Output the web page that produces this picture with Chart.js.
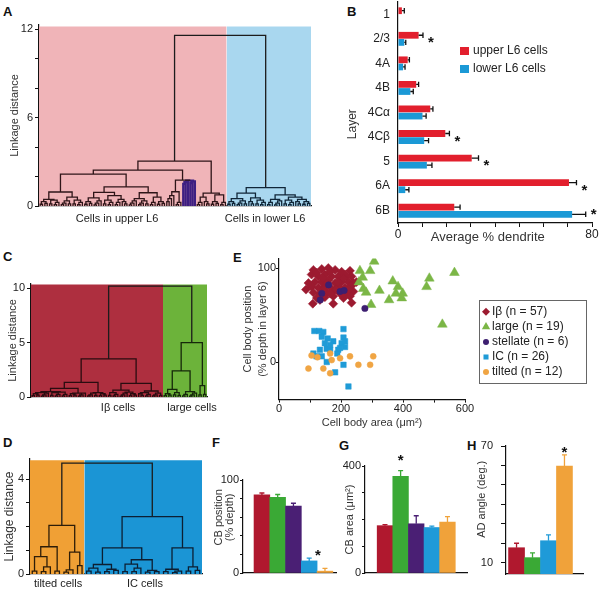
<!DOCTYPE html>
<html><head><meta charset="utf-8"><title>Layer 6 cell types</title>
<script src="https://cdn.jsdelivr.net/npm/chart.js@4.4.1/dist/chart.umd.min.js"></script>
<style>
html,body{margin:0;padding:0;background:#fff}
body{position:relative;width:600px;height:593px;overflow:hidden;font-family:'Liberation Sans',Arial,sans-serif}
canvas{position:absolute}
.pl{position:absolute;font:bold 13px/1 'Liberation Sans',Arial,sans-serif;color:#111}
</style></head><body>
<div class="pl" style="left:3px;top:5px">A</div>
<div class="pl" style="left:347px;top:5px">B</div>
<div class="pl" style="left:3px;top:250px">C</div>
<div class="pl" style="left:3px;top:436px">D</div>
<div class="pl" style="left:233px;top:251px">E</div>
<div class="pl" style="left:212px;top:436px">F</div>
<div class="pl" style="left:339px;top:439px">G</div>
<div class="pl" style="left:467px;top:439px">H</div>
<script>
// ================= DATA =================
// Dendrogram nodes: [linkage distance, left, right, group tag]; 0 = one cell
const m3a=[0.25,[0.1,0,0],0], m3b=[0.3,0,[0.15,0,0]], m4a=[0.3,[0.12,0,0],[0.18,0,0]],
      m4b=[0.35,[0.2,[0.08,0,0],0],0], m5a=[0.4,[0.15,0,0],[0.25,[0.1,0,0],0]],
      m5b=[0.35,[0.2,[0.1,0,0],0],[0.15,0,0]];

// Panel A
const stellateTree=[1.72,[1.62,[1.5,0,0],0],[1.68,[1.55,0,0],0],'p'];
const upperTree=[3.05,
  [2.44,
    [2.17,
      [0.95,[0.45,m4a,m5a],[0.6,m5b,m5a]],
      [1.3,[0.93,[0.55,m4a,m4b],[0.7,m5a,[0.45,m3a,m3b]]],[0.9,[0.5,m4b,m5b],[0.6,m3a,m4a]]]],
    [1.76,[0.97,[0.7,[0.5,[0.3,0,0],0],0],m3a],stellateTree]],
  [0.88,[0.6,m3a,m3b],[0.75,m4a,m3a]],'u'];
const lowerTree=[1.25,[0.88,[0.5,m4a,m5b],[0.55,m3b,m5a]],[0.75,[0.45,m3a,m4b],[0.6,m5a,[0.45,m3b,m4a]]],'l'];
const treeA=[11.6,upperTree,lowerTree,'k'];
const groupsA=['Cells in upper L6','Cells in lower L6'];
const ticksA=[0,2,4,6,8,10,12], tickLabelsA=[0,6,12];

// Panel C
const ibTree=[3.5,
  [1.35,[0.8,[0.5,[0.4,m4a,m4b],[0.45,m5a,m3a]],[0.35,m4a,m4b]],[0.4,m5b,m4a]],
  [1.26,[0.64,m5a,[0.45,m4b,m4a]],[0.55,[0.4,m3b,m3a],m5b]],'i'];
const largeTree=[5.0,[2.4,[0.7,m4a,[0.4,[0.2,0,0],[0.15,0,0]]],[0.5,m3a,m4b]],[1.04,[0.2,0,0],[0.25,0,0]],'g'];
const treeC=[10.2,ibTree,largeTree,'k'];
const groupsC=['I\u03b2 cells','large cells'];
const ticksC=[0,5,10], tickLabelsC=[0,5,10];

// Panel D
const tiltedTree=[2.05,[1.15,[0.73,[0.12,0,0],[0.3,[0.1,0,0],0]],[0.12,0,0]],[0.92,[0.17,[0.08,0,0],0],[0.35,0,0]],'t'];
const icTree=[2.42,
  [1.1,[0.4,[0.25,[0.12,0,0],[0.08,0,0]],[0.2,[0.1,0,0],[0.15,0,0]]],
       [0.6,[0.42,[0.1,0,0],[0.25,[0.1,0,0],0]],[0.15,[0.08,0,0],[0.1,0,0]]]],
  [1.1,[0.2,[0.1,0,0],[0.12,[0.06,0,0],0]],[0.3,[0.12,0,0],[0.15,0,0]]],'c'];
const treeD=[4.68,tiltedTree,icTree,'k'];
const groupsD=['tilted cells','IC cells'];
const ticksD=[0,1,2,3,4], tickLabelsD=[0,4];

// Panel B
const layers=['1','2/3','4A','4B','4C\u03b1','4C\u03b2','5','6A','6B'];
const upperL6=[1.6,8.5,4.0,7.5,13.3,19.5,30.4,70.5,23.2];
const upperL6Sem=[1.0,1.8,0.7,1.0,1.1,1.7,2.8,3.1,2.4];
const lowerL6=[0,2.6,2.1,5.1,10.1,10.8,11.9,3.0,71.8];
const lowerL6Sem=[0,0.6,0.8,1.2,1.5,1.8,2.1,1.5,5.6];
const layerSignificant=[false,true,false,false,false,true,true,true,true];
const dendriteTicks=[0,10,20,30,40,50,60,70,80], dendriteTickLabels=[0,80];

// Panel E: [cell body area (um2), cell body position (% depth)]
const ibCells=[[111,98],[138,99],[159,100],[181,98],[229,97],[105,93],[127,91],[148,93],[170,91],[191,91],
 [218,91],[234,91],[116,85],[138,85],[159,87],[181,84],[202,85],[224,85],[240,84],[87,77],
 [105,80],[127,79],[148,80],[170,78],[191,80],[213,79],[234,81],[111,74],[132,73],[154,74],
 [175,75],[197,73],[218,73],[240,75],[122,68],[148,69],[175,70],[208,68],[229,70],[109,62],
 [175,62],[234,63],[143,89],[165,96],[202,96],[213,93],[250,85],[95,84],[122,95],[154,84],
 [186,77],[208,89],[132,66],[165,73],[224,77],[191,85],[143,77]];
const largeCells=[[307,107],[261,97],[294,97],[270,90],[367,86],[485,89],[566,95],[476,80],[272,78],[281,74],
 [324,76],[377,73],[399,73],[396,68],[355,66],[297,61],[527,40],[258,85],[384,80]];
const stellateCells=[[138,73],[133,66],[160,82],[197,75],[210,76],[277,57]];
const icCells=[[114,33],[130,33],[143,32],[138,27],[157,25],[175,22],[208,35],[208,26],[202,20],[213,16],
 [132,13],[154,14],[165,13],[191,13],[188,9],[154,0],[138,6],[208,-3],[181,-11],[224,-26],
 [111,9],[121,6],[165,18],[148,20],[213,22],[197,15]];
const tiltedCells=[[105,7],[124,5],[165,9],[197,4],[229,6],[304,6],[95,-7],[143,-7],[165,-12],[256,-3],[294,-3],[170,2]];
const areaTicks=[0,100,200,300,400,500,600], areaTickLabels=[0,200,400,600];
const depthTicks=[0,100], depthTickLabels=[0,100];

// Panels F, G, H
const cellTypes=['I\u03b2','large','stellate','IC','tilted'];
const cbPosition=[84,81.4,72,13,2];
const cbPositionSem=[2,3,3,3,3];
const cbPositionSig=[false,false,false,false,true];
const cbArea=[177,361,184,170,190];
const cbAreaSem=[4,22,30,5,21];
const cbAreaSig=[false,true,false,false,false];
const adTypes=['I\u03b2','large','IC','tilted'];
const adAngle=[17.7,12.6,21.3,59.7];
const adAngleSem=[2.3,2.5,3,5.7];
const adAngleSig=[false,false,false,true];
const posTicks=[0,20,40,60,80,100], posTickLabels=[0,100];
const areaBarTicks=[0,100,200,300,400], areaBarTickLabels=[0,400];
const angleTicks=[10,20,30,40,50,60,70], angleTickLabels=[10,70];

// ================= LAYOUT / STYLE =================
const LAYOUT={
  A:{box:{x:0,y:10,w:318,h:222}, plot:{l:39,r:311,t:25,b:206}, groupX:[33.3,96.4], xPad:6.4, titlePad:8.4, tfs:11, max:12.3, bgTop:12.2},
  B:{box:{x:330,y:0,w:270,h:250}, plot:{l:398,r:592,t:2,b:223}, legend:{x:130,y0:51,dy:18,w:9,h:8,tx:143}, starGap:8},
  C:{box:{x:0,y:252,w:230,h:166}, plot:{l:31,r:207,t:284,b:397}, groupX:[37.6,69.5], xPad:4.4, titlePad:6.4, tfs:11, max:10.4, bgTop:10.35},
  D:{box:{x:0,y:445,w:215,h:148}, plot:{l:30,r:202,t:459,b:574}, groupX:[6.2,25.4], xPad:3.4, titlePad:2.8, tfs:12, max:4.85, bgTop:4.8},
  E:{box:{x:230,y:250,w:370,h:180}, plot:{l:279,r:465,t:258.6,b:399.6}, legend:{x:249,y:50,w:107,h:83,mx:256,tx:262,y0:61.7,dy:15.1}},
  F:{box:{x:200,y:440,w:140,h:153}, plot:{l:243,r:336,t:480,b:573}, xmin:-0.2, xmax:5.7, star:{dx:-7,dy:17}},
  G:{box:{x:330,y:440,w:145,h:153}, plot:{l:365,r:467,t:466,b:573}, xmin:-0.28, xmax:6.25, star:{dx:0,dy:14}},
  H:{box:{x:470,y:430,w:130,h:163}, plot:{l:506,r:583,t:446,b:574}, xmin:0.34, xmax:5.16, star:{dx:0,dy:6}}
};
const TYPE_COLORS={'I\u03b2':'#b0182e','large':'#3aa935','stellate':'#4a1f74','IC':'#1f9ad8','tilted':'#f0a23a'};
const AX='#111';
const FONT="'Liberation Sans', Arial, Helvetica, sans-serif";
Chart.defaults.font.family=FONT;
Chart.defaults.font.size=11;
Chart.defaults.color='#222';

// ================= HELPERS =================
function makePanel(L, cfg){
  const {box, plot}=L;
  const cv=document.createElement('canvas');
  cv.width=box.w; cv.height=box.h;
  cv.style.left=box.x+'px'; cv.style.top=box.y+'px';
  cv.style.width=box.w+'px'; cv.style.height=box.h+'px';
  document.body.appendChild(cv);
  const yW=plot.l-box.x, xH=box.y+box.h-plot.b;
  const o=cfg.options=cfg.options||{};
  o.responsive=false; o.maintainAspectRatio=false; o.animation=false; o.devicePixelRatio=1; o.events=[];
  o.layout={padding:{left:0,top:plot.t-box.y,right:box.x+box.w-plot.r,bottom:0}};
  o.plugins=Object.assign({legend:{display:false},tooltip:{enabled:false},title:{display:false}},o.plugins||{});
  Object.values(o.scales).forEach(s=>{
    s.afterFit=sc=>{
      if(sc.isHorizontal()) sc.height=xH; else sc.width=yW;
      sc.paddingTop=sc.paddingBottom=sc.paddingLeft=sc.paddingRight=0;
    };
  });
  return new Chart(cv.getContext('2d'),cfg);
}
function yAxis(o){
  return {type:'linear',position:'left',min:o.min,max:o.max,offset:false,
    afterBuildTicks:sc=>{sc.ticks=o.ticks.map(v=>({value:v}));},
    ticks:{autoSkip:false,padding:o.tickPad??2,font:{size:o.fs||11},color:'#222',
      callback:v=>o.labels.includes(v)?String(v):''},
    grid:{display:true,drawOnChartArea:false,drawTicks:true,tickLength:o.tl??4,color:AX,lineWidth:1},
    border:{display:true,color:AX,width:1.2},
    title:{display:!!o.title,text:o.title,padding:{top:o.titlePad||0,bottom:0},
      font:{size:o.tfs||11,lineHeight:o.tlh||1.2},color:'#333'}};
}
function leafCount(n){return n===0?1:leafCount(n[1])+leafCount(n[2]);}
function layoutTree(n,st,tag,out){
  if(n===0){const x=st.n+0.5; st.n++; return {x,h:0};}
  const t=n[3]||tag;
  const a=layoutTree(n[1],st,t,out), b=layoutTree(n[2],st,t,out);
  (out[t]=out[t]||[]).push([a.x,a.h,b.x,b.h,n[0]]);
  return {x:(a.x+b.x)/2,h:n[0]};
}
function dendroChart(L,tree,groupLabels,ticks,tickLabels,style){
  const st={n:0}, links={};
  layoutTree(tree,st,'k',links);
  const N=st.n, split=leafCount(tree[1]);
  const ds=[];
  Object.keys(links).forEach(t=>{
    const pts=[];
    links[t].forEach(([x1,h1,x2,h2,h])=>pts.push({x:x1,y:h1},{x:x1,y:h},{x:x2,y:h},{x:x2,y:h2},{x:x2,y:null}));
    ds.push({data:pts,showLine:true,spanGaps:false,pointRadius:0,borderColor:style.line[t],
      borderWidth:(style.lw&&style.lw[t])||1.3,fill:false,order:1});
  });
  [[0,split],[split,N]].forEach((r,i)=>ds.push({data:[{x:r[0],y:L.bgTop},{x:r[1],y:L.bgTop}],
    showLine:true,pointRadius:0,borderWidth:1,borderColor:'rgba(0,0,0,0)',backgroundColor:style.bg[i],fill:'origin',order:2}));
  return makePanel(L,{type:'scatter',data:{datasets:ds},options:{scales:{
    x:{type:'linear',position:'bottom',min:0,max:N,offset:false,
      afterBuildTicks:sc=>{sc.ticks=L.groupX.map(v=>({value:v}));},
      ticks:{autoSkip:false,maxRotation:0,padding:L.xPad,font:{size:11},color:'#222',callback:(v,i)=>groupLabels[i]},
      grid:{display:false,drawTicks:false},border:{display:true,color:AX,width:1.2}},
    y:yAxis({min:0,max:L.max,ticks,labels:tickLabels,title:'Linkage distance',titlePad:L.titlePad,tfs:L.tfs,tickPad:2})
  }}});
}
function drawStar(ctx,x,y){
  ctx.save(); ctx.fillStyle='#111'; ctx.font='bold 15px '+FONT;
  ctx.textAlign='center'; ctx.textBaseline='alphabetic'; ctx.fillText('*',x,y+8.5); ctx.restore();
}
function vBarDecor(sem,sig,star){
  return {id:'vdecor',afterDatasetsDraw(chart){
    const ctx=chart.ctx, ys=chart.scales.y, ds=chart.data.datasets[0], meta=chart.getDatasetMeta(0);
    ctx.save();
    meta.data.forEach((bar,i)=>{
      const v=ds.data[i].y, top=ys.getPixelForValue(v+sem[i]);
      ctx.strokeStyle=ds.backgroundColor[i]; ctx.lineWidth=1.3;
      ctx.beginPath(); ctx.moveTo(bar.x,bar.y); ctx.lineTo(bar.x,top);
      ctx.moveTo(bar.x-2.5,top); ctx.lineTo(bar.x+2.5,top); ctx.stroke();
      if(sig[i]) drawStar(ctx,bar.x+star.dx,top-star.dy);
    });
    ctx.restore();
  }};
}
function barChart(L,types,vals,sem,sig,yopt){
  return makePanel(L,{type:'bar',
    data:{labels:types,datasets:[{data:vals.map((v,i)=>({x:i+1,y:v})),backgroundColor:types.map(t=>TYPE_COLORS[t]),
      borderWidth:0,barPercentage:1,categoryPercentage:1}]},
    options:{scales:{
      x:{type:'linear',position:'bottom',min:L.xmin,max:L.xmax,offset:false,ticks:{display:false},grid:{display:false,drawTicks:false},
        border:{display:true,color:AX,width:1.2}},
      y:yAxis(yopt)}},
    plugins:[vBarDecor(sem,sig,L.star)]});
}
function drawMarker(ctx,style,x,y,r,color){
  ctx.fillStyle=color; ctx.beginPath();
  if(style==='rectRot'){ctx.moveTo(x-r,y);ctx.lineTo(x,y-r);ctx.lineTo(x+r,y);ctx.lineTo(x,y+r);ctx.closePath();}
  else if(style==='triangle'){ctx.moveTo(x,y-r);ctx.lineTo(x+r*0.866,y+r*0.5);ctx.lineTo(x-r*0.866,y+r*0.5);ctx.closePath();}
  else if(style==='rect'){ctx.rect(x-r*0.7,y-r*0.7,r*1.4,r*1.4);}
  else ctx.arc(x,y,r,0,Math.PI*2);
  ctx.fill();
}

// ================= PANEL A =================
dendroChart(LAYOUT.A,treeA,groupsA,ticksA,tickLabelsA,{
  line:{k:'#1c1c1c',u:'#2e1518',p:'#3d1f82',l:'#102638'},lw:{p:2.2},bg:['#f0b4b8','#a9d7ef']});

// ================= PANEL C =================
dendroChart(LAYOUT.C,treeC,groupsC,ticksC,tickLabelsC,{
  line:{k:'#1c1c1c',i:'#2a0c10',g:'#15280a'},bg:['#ae2f3f','#6cb33a']});

// ================= PANEL D =================
dendroChart(LAYOUT.D,treeD,groupsD,ticksD,tickLabelsD,{
  line:{k:'#1c1c1c',t:'#2e1d08',c:'#0c1f33'},bg:['#f0a035','#1b95d5']});

// ================= PANEL B =================
const bDecor={id:'bdecor',afterDatasetsDraw(chart){
  const ctx=chart.ctx, xs=chart.scales.x, ys=chart.scales.y, sems=[upperL6Sem,lowerL6Sem];
  const ends=layers.map(()=>0);
  ctx.save(); ctx.strokeStyle='#111'; ctx.lineWidth=1.3;
  chart.data.datasets.forEach((ds,di)=>{
    chart.getDatasetMeta(di).data.forEach((bar,i)=>{
      const e=sems[di][i], v=ds.data[i];
      if(!(e>0)) return;
      const end=xs.getPixelForValue(v+e), hh=bar.height*0.4;
      ctx.beginPath(); ctx.moveTo(bar.x,bar.y); ctx.lineTo(end,bar.y);
      ctx.moveTo(end,bar.y-hh); ctx.lineTo(end,bar.y+hh); ctx.stroke();
      ends[i]=Math.max(ends[i],end);
    });
  });
  layerSignificant.forEach((s,i)=>{if(s) drawStar(ctx,ends[i]+LAYOUT.B.starGap,ys.getPixelForValue(i));});
  const lg=LAYOUT.B.legend;
  chart.data.datasets.forEach((ds,i)=>{
    const cy=lg.y0+i*lg.dy;
    ctx.fillStyle=ds.backgroundColor; ctx.fillRect(lg.x,cy-lg.h/2,lg.w,lg.h);
    ctx.fillStyle='#222'; ctx.font='12px '+FONT; ctx.textAlign='left'; ctx.textBaseline='middle';
    ctx.fillText(ds.label,lg.tx,cy);
  });
  ctx.restore();
}};
makePanel(LAYOUT.B,{type:'bar',
  data:{labels:layers,datasets:[
    {label:'upper L6 cells',data:upperL6,backgroundColor:'#e21f2d',borderWidth:0,categoryPercentage:0.58,barPercentage:0.95},
    {label:'lower L6 cells',data:lowerL6,backgroundColor:'#1b99d6',borderWidth:0,categoryPercentage:0.58,barPercentage:0.95}]},
  options:{indexAxis:'y',scales:{
    x:{type:'linear',position:'bottom',min:0,max:80,offset:false,
      afterBuildTicks:sc=>{sc.ticks=dendriteTicks.map(v=>({value:v}));},
      ticks:{autoSkip:false,maxRotation:0,padding:0,font:{size:12},color:'#222',
        callback:v=>dendriteTickLabels.includes(v)?String(v):''},
      grid:{display:true,drawOnChartArea:false,tickLength:4,color:AX},
      border:{display:true,color:AX,width:1.2},
      title:{display:true,text:'Average % dendrite'+' '.repeat(4),padding:{top:0,bottom:5.2},font:{size:13},color:'#333'}},
    y:{type:'category',position:'left',offset:true,grid:{display:false,drawTicks:false},
      border:{display:true,color:AX,width:1.2},
      ticks:{padding:8,font:{size:12},color:'#222',autoSkip:false},
      title:{display:true,text:'Layer'+' '.repeat(7),padding:{top:15.4,bottom:0},font:{size:12},color:'#333'}}}},
  plugins:[bDecor]});

// ================= PANEL E =================
const eSets=[
  {label:`I\u03b2 (n = ${ibCells.length})`,cells:ibCells,style:'rectRot',r:4.5,lr:4,color:'#9c1a30',order:5},
  {label:`large (n = ${largeCells.length})`,cells:largeCells,style:'triangle',r:5.6,lr:4.8,color:'#7bb646',order:4},
  {label:`stellate (n = ${stellateCells.length})`,cells:stellateCells,style:'circle',r:3.2,lr:3,color:'#3d1f70',order:0},
  {label:`IC (n = ${icCells.length})`,cells:icCells,style:'rect',r:3.9,lr:3.6,color:'#1f9bd7',order:3},
  {label:`tilted (n = ${tiltedCells.length})`,cells:tiltedCells,style:'circle',r:3,lr:3,color:'#f0a544',order:2}];
const eLegend={id:'elegend',afterDraw(chart){
  const ctx=chart.ctx, lg=LAYOUT.E.legend;
  ctx.save(); ctx.strokeStyle='#666'; ctx.lineWidth=1; ctx.strokeRect(lg.x+0.5,lg.y+0.5,lg.w,lg.h);
  eSets.forEach((s,i)=>{
    const cy=lg.y0+i*lg.dy;
    drawMarker(ctx,s.style,lg.mx,cy,s.lr,s.color);
    ctx.fillStyle='#222'; ctx.font='12px '+FONT; ctx.textAlign='left'; ctx.textBaseline='middle';
    ctx.fillText(s.label,lg.tx,cy);
  });
  ctx.restore();
}};
makePanel(LAYOUT.E,{type:'scatter',
  data:{datasets:eSets.map(s=>({label:s.label,data:s.cells.map(([x,y])=>({x,y})),pointStyle:s.style,pointRadius:s.r,
    backgroundColor:s.color,borderColor:s.color,borderWidth:0.5,order:s.order}))},
  options:{scales:{
    x:{type:'linear',position:'bottom',min:0,max:600,offset:false,
      afterBuildTicks:sc=>{sc.ticks=areaTicks.map(v=>({value:v}));},
      ticks:{autoSkip:false,maxRotation:0,padding:0,font:{size:11},color:'#222',
        callback:v=>areaTickLabels.includes(v)?String(v):''},
      grid:{display:true,drawOnChartArea:false,tickLength:3,color:AX},
      border:{display:true,color:AX,width:1.2},
      title:{display:true,text:'Cell body area (\u03bcm\u00b2)',padding:{top:0,bottom:0.4},font:{size:11},color:'#333'}},
    y:yAxis({min:-40,max:110,ticks:depthTicks,labels:depthTickLabels,tl:3,tickPad:0,
      title:['Cell body position','(% depth in layer 6)'],titlePad:10.5,tlh:1.36})}},
  plugins:[eLegend]});

// ================= PANELS F, G, H =================
barChart(LAYOUT.F,cellTypes,cbPosition,cbPositionSem,cbPositionSig,
  {min:0,max:100,ticks:posTicks,labels:posTickLabels,tl:3,tickPad:1,
   title:[' '.repeat(6)+'CB position',' '.repeat(6)+'(% depth)'],titlePad:13.5,tlh:1.0});
barChart(LAYOUT.G,cellTypes,cbArea,cbAreaSem,cbAreaSig,
  {min:0,max:400,ticks:areaBarTicks,labels:areaBarTickLabels,tl:3,tickPad:1,
   title:'CB area (\u03bcm\u00b2)',titlePad:13.4});
barChart(LAYOUT.H,adTypes,adAngle,adAngleSem,adAngleSig,
  {min:4.19,max:70,ticks:angleTicks,labels:angleTickLabels,tl:5,tickPad:8,
   title:' '.repeat(7)+'AD angle (deg.)',titlePad:5.4});
</script></body></html>
